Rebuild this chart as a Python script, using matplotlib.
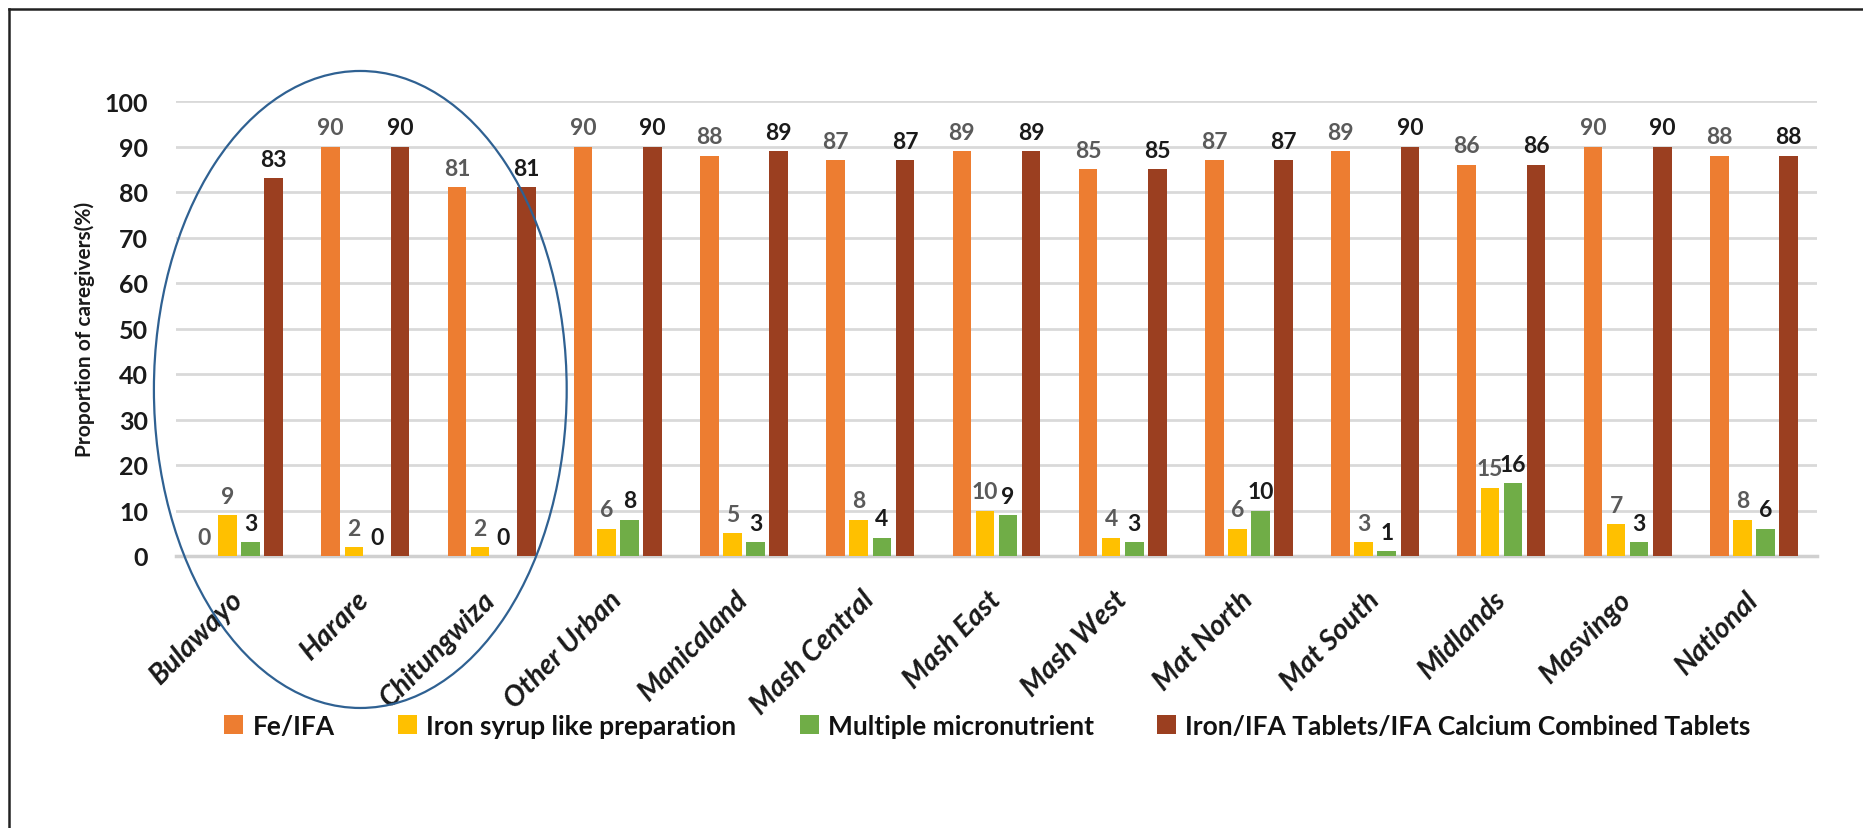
import matplotlib
matplotlib.use("Agg")
import matplotlib.pyplot as plt
from matplotlib.patches import Ellipse
from matplotlib.lines import Line2D
import numpy as np

plt.rcParams['font.family'] = ['Lato', 'DejaVu Sans']

categories = ["Bulawayo", "Harare", "Chitungwiza", "Other Urban", "Manicaland",
              "Mash Central", "Mash East", "Mash West", "Mat North", "Mat South",
              "Midlands", "Masvingo", "National"]
fe_ifa = [0, 90, 81, 90, 88, 87, 89, 85, 87, 89, 86, 90, 88]
iron_syrup = [9, 2, 2, 6, 5, 8, 10, 4, 6, 3, 15, 7, 8]
micronutrient = [3, 0, 0, 8, 3, 4, 9, 3, 10, 1, 16, 3, 6]
tablets = [83, 90, 81, 90, 89, 87, 89, 85, 87, 90, 86, 90, 88]

series_names = ["Fe/IFA", "Iron syrup like preparation", "Multiple micronutrient",
                "Iron/IFA Tablets/IFA Calcium Combined Tablets"]
series_values = [fe_ifa, iron_syrup, micronutrient, tablets]
colors = ["#ED7D31", "#FFC000", "#70AD47", "#9B3F20"]
label_styles = [("#5a5a5a", "bold"), ("#5a5a5a", "bold"),
                ("#1a1a1a", "bold"), ("#1a1a1a", "bold")]
y_ticks = [0, 10, 20, 30, 40, 50, 60, 70, 80, 90, 100]
highlighted = [0, 1, 2]  # urban centres circled on the chart

W, H, DPI = 1863, 829, 100
fig = plt.figure(figsize=(W / DPI, H / DPI), dpi=DPI)
ax = fig.add_axes([176 / W, 1 - 557 / H, (1817 - 176) / W, (557 - 102) / H])

x = np.arange(len(categories))
step = 0.183
width = 0.147
offsets = (np.arange(4) - 1.5) * step

for vals, name, col, off, (lc, lw) in zip(series_values, series_names, colors,
                                          offsets, label_styles):
    bars = ax.bar(x + off, vals, width=width, color=col, label=name, zorder=3)
    for b, v in zip(bars, vals):
        ax.annotate(f"{v}", (b.get_x() + b.get_width() / 2, v),
                    xytext=(0, 6), textcoords="offset points",
                    ha="center", va="bottom", fontsize=16.5,
                    color=lc, fontweight=lw, zorder=4)

ax.set_xlim(-0.5, len(categories) - 0.5)
ax.set_ylim(0, 100)
ax.set_yticks(y_ticks)
ax.set_yticklabels([str(t) for t in y_ticks], fontsize=18, fontweight="bold",
                   color="#1a1a1a")
ax.yaxis.grid(True, color="#D9D9D9", linewidth=2, zorder=0)
ax.set_axisbelow(True)
for s in ["top", "right", "left"]:
    ax.spines[s].set_visible(False)
ax.spines["bottom"].set_color("#D0D0D0")
ax.spines["bottom"].set_linewidth(2.5)
ax.tick_params(axis="both", length=0)
ax.tick_params(axis="y", pad=20)
ax.tick_params(axis="x", pad=28)

ax.set_xticks(x)
ax.set_xticklabels(categories, rotation=45, ha="right", va="center",
                   rotation_mode="anchor", fontsize=20.5, fontweight="bold",
                   fontstyle="italic", color="#1a1a1a")

ax.set_ylabel("Proportion of caregivers(%)", fontsize=15, fontweight="bold",
              color="#1a1a1a", labelpad=7)

# Ellipse around the highlighted urban centres
cx = np.mean(highlighted) - 0.04
ell = Ellipse((cx, 36.6), width=3.27, height=140, fill=False,
              edgecolor="#2F6192", linewidth=1.6, clip_on=False, zorder=5)
ax.add_patch(ell)

leg = ax.legend(loc="center", bbox_to_anchor=(0.4945, (557 - 727) / 455),
                ncol=4, frameon=False, fontsize=19, handlelength=0.72,
                handleheight=0.72, handletextpad=0.35, columnspacing=2.4,
                borderaxespad=0, borderpad=0)
for t in leg.get_texts():
    t.set_fontweight("bold")
    t.set_color("#111111")

# Partial frame around the figure
fig.add_artist(Line2D([8.5 / W, 8.5 / W], [0, 1 - 10 / H], color="#222222",
                      linewidth=1.8, transform=fig.transFigure))
fig.add_artist(Line2D([8.5 / W, 1], [1 - 10 / H, 1 - 10 / H], color="#222222",
                      linewidth=1.8, transform=fig.transFigure))

fig.savefig("out.png", dpi=DPI)
